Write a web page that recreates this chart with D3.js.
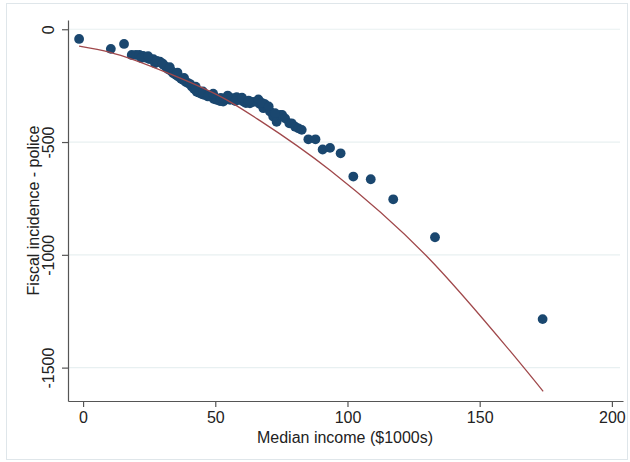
<!DOCTYPE html>
<html>
<head>
<meta charset="utf-8">
<script src="https://cdn.jsdelivr.net/npm/d3@7"></script>
<style>
  body { margin: 0; background: #fff; }
  svg { display: block; font-family: "Liberation Sans", Arial, sans-serif; }
</style>
</head>
<body>
<svg id="chart" width="630" height="462"></svg>
<script>
// binned scatter: median income ($1000s) vs fiscal incidence - police
const incomeX = [-1.5, 10.5, 15.5, 18.4, 20.0, 21.3, 22.7, 23.8, 25.0, 26.6, 27.2, 28.4, 29.1,
    30.4, 31.4, 32.2, 33.3, 34.1, 35.2, 36.0, 37.1, 37.9, 38.9, 39.8, 41.1, 42.0, 43.0, 43.9,
    44.9, 45.7, 46.8, 47.6, 48.7, 49.5, 50.5, 51.8, 53.0, 54.1, 55.6, 56.7, 58.1, 59.4, 60.6,
    61.6, 63.1, 64.3, 65.7, 66.9, 68.2, 68.8, 69.9, 70.7, 71.9, 73.2, 74.5, 75.3, 76.4, 78.0,
    78.9, 80.2, 81.4, 82.7, 85.2, 87.9, 90.6, 93.4, 97.4, 102.2, 108.8, 117.3, 133.1, 173.8,
    22.0, 24.6, 27.9, 30.1, 32.8, 35.7, 38.2, 40.5, 42.6, 45.3, 47.2, 49.2, 52.1, 54.7,
    57.6, 60.1, 62.6, 66.3, 67.6, 70.2, 72.6];
const incidenceY = [-43, -87, -65, -114, -114, -114, -118, -126, -132, -133, -151, -145, -144,
    -158, -167, -177, -185, -195, -203, -210, -220, -225, -234, -239, -254, -265, -277, -282,
    -287, -291, -291, -296, -301, -309, -313, -318, -321, -309, -313, -305, -301, -313, -321,
    -327, -328, -322, -321, -331, -350, -332, -349, -365, -387, -410, -380, -380, -395, -417,
    -417, -432, -439, -446, -488, -488, -533, -526, -550, -653, -665, -754, -922, -1285,
    -128, -119, -140, -152, -168, -192, -216, -243, -255, -276, -298, -286, -304, -294,
    -318, -303, -316, -311, -326, -342, -372];

// quadratic fit line
const fitX = [-1.5, 10.2, 32.9, 54.3, 66.9, 93.4, 129.9, 161.4, 174.0];
const fitY = [-75, -102, -198, -313, -405, -625, -1005, -1425, -1605];

const xTicks = [0, 50, 100, 150, 200];
const yTicks = [0, -500, -1000, -1500];

const svg = d3.select("#chart");

// outer graph frame
svg.append("rect")
    .attr("x", 6.5).attr("y", 3.5)
    .attr("width", 621).attr("height", 456)
    .attr("fill", "none")
    .attr("stroke", "#dfe6ea")
    .attr("stroke-width", 1);

const plotL = 68, plotR = 623, plotT = 20, plotB = 401;

const x = d3.scaleLinear().domain([-5.7, 204.2]).range([plotL, plotR]);
const y = d3.scaleLinear().domain([41, -1648]).range([plotT, plotB]);

// gridlines
svg.append("g")
    .selectAll("line")
    .data(yTicks)
    .enter()
    .append("line")
    .attr("x1", plotL)
    .attr("x2", plotR - 3)
    .attr("y1", d => y(d))
    .attr("y2", d => y(d))
    .attr("stroke", "#e8f0f1")
    .attr("stroke-width", 1.2);

// axes
const plain = d => String(d);
const xAxis = svg.append("g")
    .attr("transform", `translate(0,${plotB})`)
    .call(d3.axisBottom(x).tickValues(xTicks).tickFormat(plain)
        .tickSize(6).tickPadding(5).tickSizeOuter(0));

const yAxis = svg.append("g")
    .attr("transform", `translate(${plotL},0)`)
    .call(d3.axisLeft(y).tickValues(yTicks).tickFormat(plain)
        .tickSize(6).tickSizeOuter(0));

[xAxis, yAxis].forEach(g => {
    g.select(".domain").attr("stroke", "#555").attr("stroke-width", 1.2);
    g.selectAll(".tick line").attr("stroke", "#555").attr("stroke-width", 1.2);
    g.selectAll("text")
        .attr("fill", "#222")
        .style("font-size", "16px")
        .style("font-family", "Liberation Sans, Arial, sans-serif");
});

// rotated y tick labels
yAxis.selectAll(".tick text")
    .attr("x", 0).attr("dy", 0)
    .attr("text-anchor", "middle")
    .attr("transform", "translate(-14,0) rotate(-90)");

// axis titles
svg.append("text")
    .attr("x", 345)
    .attr("y", 443)
    .attr("text-anchor", "middle")
    .attr("fill", "#222")
    .style("font-size", "16px")
    .text("Median income ($1000s)");

svg.append("text")
    .attr("transform", `translate(39,${(plotT + plotB) / 2}) rotate(-90)`)
    .attr("text-anchor", "middle")
    .attr("fill", "#222")
    .style("font-size", "16px")
    .text("Fiscal incidence - police");

// scatter points
svg.append("g")
    .selectAll("circle")
    .data(incomeX.map((v, i) => [v, incidenceY[i]]))
    .enter()
    .append("circle")
    .attr("cx", d => x(d[0]))
    .attr("cy", d => y(d[1]))
    .attr("r", 4.9)
    .attr("fill", "#1a476f");

// fit line
const line = d3.line()
    .x(d => x(d[0]))
    .y(d => y(d[1]))
    .curve(d3.curveMonotoneX);

svg.append("path")
    .datum(fitX.map((v, i) => [v, fitY[i]]))
    .attr("d", line)
    .attr("fill", "none")
    .attr("stroke", "#a0484b")
    .attr("stroke-width", 1.3);
</script>
</body>
</html>
